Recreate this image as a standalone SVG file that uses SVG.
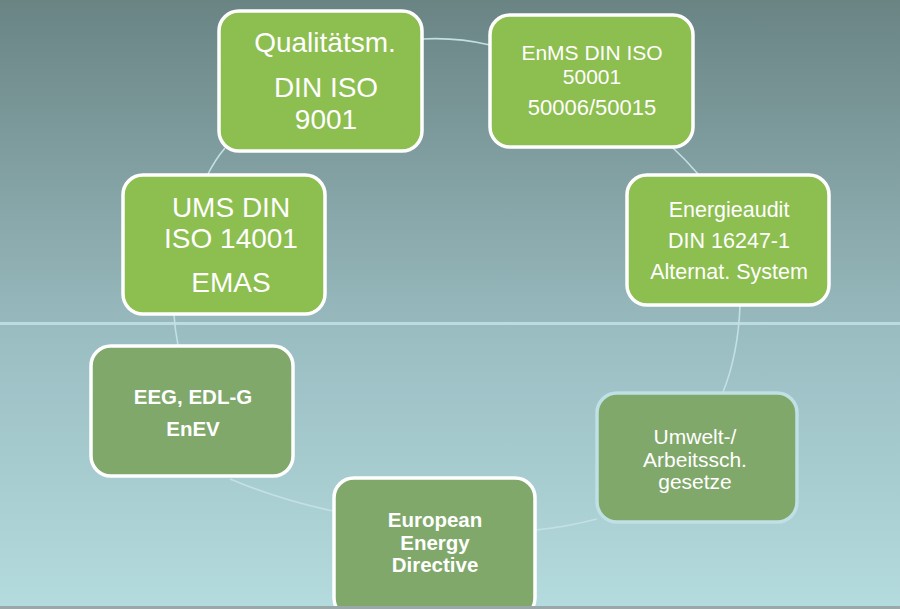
<svg xmlns="http://www.w3.org/2000/svg" width="900" height="609" viewBox="0 0 900 609">
<defs>
<linearGradient id="bgTop" x1="0" y1="0" x2="0" y2="1">
<stop offset="0" stop-color="#6a8484"/>
<stop offset="1" stop-color="#97b9bd"/>
</linearGradient>
<linearGradient id="bgBot" x1="0" y1="0" x2="0" y2="1">
<stop offset="0" stop-color="#99bcc1"/>
<stop offset="1" stop-color="#b4dbde"/>
</linearGradient>
</defs>
<style>
.light{fill:#8dbe50;stroke:#ffffff;stroke-width:3.5}
.dark{fill:#80a86a;stroke:#ffffff;stroke-width:3.5}
.darkb{fill:#80a86a;stroke:#bfe0e4;stroke-width:3.5}
.t{font-family:"Liberation Sans",Arial,sans-serif;fill:#ffffff;text-anchor:middle}
.b{font-weight:bold}
.conn{fill:none;stroke:#c3e0e4;stroke-width:1.6}
</style>
<rect x="0" y="0" width="900" height="323" fill="url(#bgTop)"/>
<rect x="0" y="323" width="900" height="286" fill="url(#bgBot)"/>
<rect x="0" y="322" width="900" height="3" fill="#bcdce0"/>

<g id="connectors">
<path class="conn" d="M422,39 Q456,37 490,45"/>
<path class="conn" d="M672,147 Q686,160 698,174"/>
<path class="conn" d="M740,306 Q738,355 723,392"/>
<path class="conn" d="M597,519 Q566,527 536,530"/>
<path class="conn" d="M333,511 Q280,500 230,479"/>
<path class="conn" d="M174,315 Q175,330 178,345"/>
<path class="conn" d="M208,174 Q215,160 225,148"/>
</g>

<g id="qualitaetsm">
<rect class="light" x="219" y="11" width="203" height="140" rx="20"/>
<text class="t" x="325" y="52" font-size="28">Qualitätsm.</text>
<text class="t" x="326" y="97" font-size="28">DIN ISO</text>
<text class="t" x="326" y="129" font-size="28">9001</text>
</g>

<g id="enms">
<rect class="light" x="490" y="15" width="203" height="132" rx="20"/>
<text class="t" x="592" y="60" font-size="21">EnMS DIN ISO</text>
<text class="t" x="592" y="84" font-size="21">50001</text>
<text class="t" x="592" y="115" font-size="22">50006/50015</text>
</g>

<g id="energieaudit">
<rect class="light" x="627" y="175" width="202" height="130" rx="20"/>
<text class="t" x="729" y="217" font-size="21.5">Energieaudit</text>
<text class="t" x="729" y="248" font-size="21.5">DIN 16247-1</text>
<text class="t" x="729" y="279" font-size="21.5">Alternat. System</text>
</g>

<g id="umwelt">
<rect class="darkb" x="597" y="393" width="200" height="129" rx="20"/>
<text class="t" x="695" y="444" font-size="21">Umwelt-/</text>
<text class="t" x="695" y="467" font-size="21">Arbeitssch.</text>
<text class="t" x="695" y="489" font-size="21">gesetze</text>
</g>

<g id="european">
<rect class="dark" x="334" y="478" width="201" height="140" rx="20"/>
<text class="t b" x="435" y="527" font-size="20.5">European</text>
<text class="t b" x="435" y="550" font-size="20.5">Energy</text>
<text class="t b" x="435" y="572" font-size="20.5">Directive</text>
</g>

<g id="eeg">
<rect class="dark" x="91" y="346" width="202" height="130" rx="20"/>
<text class="t b" x="193" y="404" font-size="20.5">EEG, EDL-G</text>
<text class="t b" x="193" y="436" font-size="20.5">EnEV</text>
</g>

<g id="ums">
<rect class="light" x="123" y="175" width="202" height="139" rx="20"/>
<text class="t" x="231" y="217" font-size="28">UMS DIN</text>
<text class="t" x="231" y="248" font-size="28">ISO 14001</text>
<text class="t" x="231" y="292" font-size="28">EMAS</text>
</g>

<rect x="0" y="606" width="900" height="3" fill="#9aa8aa"/>
</svg>
